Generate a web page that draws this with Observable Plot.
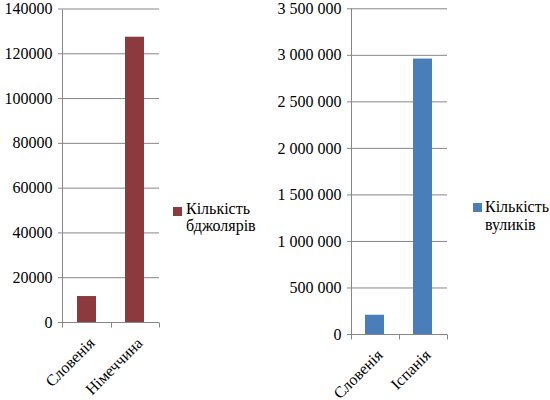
<!DOCTYPE html>
<html>
<head>
<meta charset="utf-8">
<script src="https://cdn.jsdelivr.net/npm/d3@7"></script>
<script src="https://cdn.jsdelivr.net/npm/@observablehq/plot@0.6"></script>
<style>
body { margin: 0; background: #fff; }
.wrap { position: relative; width: 550px; height: 400px; overflow: hidden; font-family: "Liberation Serif"; color: #000; }
.panel { position: absolute; top: 0; }
.legend { position: absolute; font-family: "Liberation Serif"; font-size: 16px; white-space: nowrap; }
.sw { position: absolute; width: 9px; height: 9px; }
</style>
</head>
<body>
<div class="wrap">
  <div class="panel" id="left"></div>
  <div class="panel" id="right"></div>
  <div class="legend" style="left:186px;top:200px;line-height:17px;"><span class="sw" style="left:-13px;top:7px;background:#8c3a3e;"></span>Кількість<br>бджолярів</div>
  <div class="legend" style="left:485px;top:198px;line-height:18px;"><span class="sw" style="left:-12px;top:5px;background:#4a7ebb;"></span>Кількість<br>вуликів</div>
</div>
<script>
// Number of beekeepers
const beekeeperCountries = ["Словенія", "Німеччина"];
const beekeepers = [11600, 127400];
const beekeeperTicks = [0, 20000, 40000, 60000, 80000, 100000, 120000, 140000];

// Number of hives
const hiveCountries = ["Словенія", "Іспанія"];
const hives = [207000, 2960000];
const hiveTicks = [0, 500000, 1000000, 1500000, 2000000, 2500000, 3000000, 3500000];

const gridColor = "#868686";
const fontName = "Liberation Serif";

// Axis lines plus category tick marks placed between the bands
function categoryFrame(index, scales) {
  const x = scales.x, y = scales.y;
  const [x0, x1] = x.range();
  const bw = x.bandwidth();
  const cats = x.domain();
  const bounds = [x0, ...d3.pairs(cats).map(([a, b]) => (x(a) + bw + x(b)) / 2), x1];
  const y0 = Math.round(y(0)) + 0.5;
  const yTop = Math.round(y(y.domain()[1])) + 0.5;
  const g = d3.create("svg:g").attr("stroke", gridColor).attr("fill", "none");
  const ax0 = Math.round(x0) + 0.5;
  g.append("line").attr("x1", ax0).attr("x2", ax0).attr("y1", yTop).attr("y2", y0);
  g.append("line").attr("x1", x0).attr("x2", x1).attr("y1", y0).attr("y2", y0);
  for (const b of bounds) {
    const bx = Math.round(b) + 0.5;
    g.append("line").attr("x1", bx).attr("x2", bx).attr("y1", y0).attr("y2", y0 + 5);
  }
  return g.node();
}

function barPanel({cats, values, ticks, color, format, width, height, marginLeft, marginRight, marginTop, marginBottom}) {
  const data = cats.map((c, i) => ({country: c, value: values[i]}));
  return Plot.plot({
    width, height, marginLeft, marginRight, marginTop, marginBottom,
    style: {fontFamily: fontName, fontSize: "16px", color: "#000", background: "transparent", overflow: "visible"},
    x: {domain: cats, paddingInner: 0.6, paddingOuter: 0.3, axis: null},
    y: {domain: [ticks[0], ticks[ticks.length - 1]]},
    marks: [
      Plot.gridY(ticks, {stroke: gridColor, strokeOpacity: 1}),
      Plot.axisY(ticks, {tickFormat: format, tickSize: 4, tickPadding: 6, stroke: gridColor, label: null, fontSize: 16, fontFamily: fontName}),
      Plot.barY(data, {x: "country", y: "value", fill: color}),
      categoryFrame,
      Plot.text(cats, {x: d => d, frameAnchor: "bottom", rotate: -45, textAnchor: "end", lineAnchor: "middle", dx: 5, dy: 18, fontSize: 16, fontFamily: fontName, fill: "#000"})
    ]
  });
}

document.getElementById("left").append(barPanel({
  cats: beekeeperCountries, values: beekeepers, ticks: beekeeperTicks, color: "#8c3a3e",
  format: d => String(d),
  width: 165, height: 400, marginLeft: 62, marginRight: 6, marginTop: 8.5, marginBottom: 78
}));

const right = document.getElementById("right");
right.style.left = "270px";
right.append(barPanel({
  cats: hiveCountries, values: hives, ticks: hiveTicks, color: "#4a7ebb",
  format: d => d3.format(",")(d).replace(/,/g, "\u00a0"),
  width: 182, height: 400, marginLeft: 81, marginRight: 5, marginTop: 8.3, marginBottom: 66
}));
</script>
</body>
</html>
